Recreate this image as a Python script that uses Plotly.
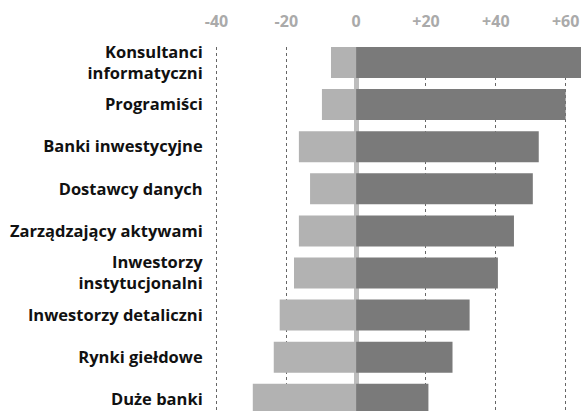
import plotly.graph_objects as go

categories = [
    "Konsultanci<br>informatyczni",
    "Programiści",
    "Banki inwestycyjne",
    "Dostawcy danych",
    "Zarządzający aktywami",
    "Inwestorzy<br>instytucjonalni",
    "Inwestorzy detaliczni",
    "Rynki giełdowe",
    "Duże banki",
]
negative = [-7.2, -9.8, -16.4, -13.2, -16.4, -17.8, -21.9, -23.6, -29.6]
positive = [66, 60.0, 52.3, 50.6, 45.2, 40.6, 32.5, 27.6, 20.7]
tick_vals = [-40, -20, 0, 20, 40, 60]
tick_text = ["-40", "-20", "0", "+20", "+40", "+60"]

fig = go.Figure()
fig.add_trace(go.Bar(y=categories, x=negative, orientation="h",
                     marker=dict(color="#b2b2b2", line=dict(width=0)), hoverinfo="skip"))
fig.add_trace(go.Bar(y=categories, x=positive, orientation="h",
                     marker=dict(color="#7a7a7a", line=dict(width=0)), hoverinfo="skip"))

fig.update_layout(
    width=581, height=411,
    margin=dict(l=213, r=0, t=47, b=0),
    barmode="relative",
    bargap=0.264,
    showlegend=False,
    plot_bgcolor="white",
    paper_bgcolor="white",
    font=dict(family="Open Sans", size=16, color="#111111"),
)
fig.update_xaxes(
    side="top",
    range=[-41.0, 64.4],
    tickvals=tick_vals, ticktext=tick_text,
    tickfont=dict(family="Open Sans", size=16, color="#aaaaaa", weight=700),
    showgrid=True, gridcolor="#666666", griddash="dot", gridwidth=1,
    zeroline=True, zerolinecolor="#bdbdbd", zerolinewidth=5,
    ticks="outside", ticklen=13, tickcolor="white",
    showline=False,
)
fig.update_yaxes(
    range=[8.278, -0.368],
    tickfont=dict(family="Open Sans", size=16.5, color="#111111", weight=700),
    ticks="outside", ticklen=6, tickcolor="white",
    showgrid=False, showline=False, zeroline=False,
)

fig.write_html("out.html")
